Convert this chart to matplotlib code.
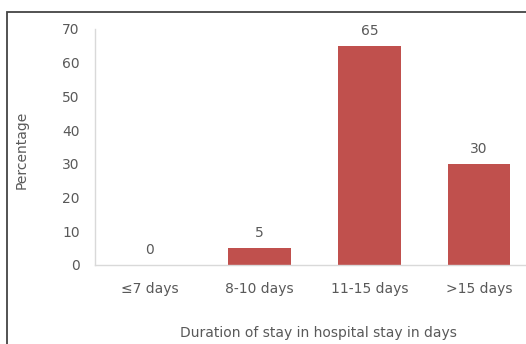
import matplotlib.pyplot as plt
from matplotlib.patches import Rectangle

categories = ["≤7 days", "8-10 days", "11-15 days", ">15 days"]
percentages = [0, 5, 65, 30]
y_ticks = [0, 10, 20, 30, 40, 50, 60, 70]

bar_color = "#C0504D"
text_color = "#595959"
fs = 10

plt.rcParams["font.family"] = ["DejaVu Sans"]

W, H = 526, 344
fig = plt.figure(figsize=(W / 100, H / 100), dpi=100)

# plot area in pixel coords
left, right, top, bottom = 95, 534, 29, 265
ax = fig.add_axes([left / W, 1 - bottom / H, (right - left) / W, (bottom - top) / H])

x = range(len(categories))
bars = ax.bar(x, percentages, width=0.57, color=bar_color)
for rect, val in zip(bars, percentages):
    ax.annotate(str(val), (rect.get_x() + rect.get_width() / 2, rect.get_height()),
                xytext=(0, 6), textcoords="offset points", ha="center", va="bottom",
                fontsize=fs, color=text_color)

ax.set_xlim(-0.5, 3.5)
ax.set_ylim(0, 70)
ax.set_yticks(y_ticks)
ax.set_xticks(list(x))
ax.set_xticklabels(categories)
ax.tick_params(axis="both", length=0, labelsize=fs, labelcolor=text_color)
ax.tick_params(axis="y", pad=11)
ax.tick_params(axis="x", pad=12)

for side in ("top", "right"):
    ax.spines[side].set_visible(False)
for side in ("left", "bottom"):
    ax.spines[side].set_color("#D9D9D9")
    ax.spines[side].set_linewidth(1.0)

fig.text(22 / W, 1 - 150 / H, "Percentage", rotation=90, ha="center", va="center",
         fontsize=fs, color=text_color)
fig.text(318 / W, 1 - 333 / H, "Duration of stay in hospital stay in days",
         ha="center", va="center", fontsize=fs, color=text_color)

# outer frame, only top and left edges fall inside the canvas
fig.patches.append(Rectangle((7 / W, -0.1), 1.2, (1 - 12 / H) + 0.1,
                             transform=fig.transFigure, fill=False,
                             edgecolor="#444444", linewidth=1.3))

fig.savefig("out.png", dpi=100)
